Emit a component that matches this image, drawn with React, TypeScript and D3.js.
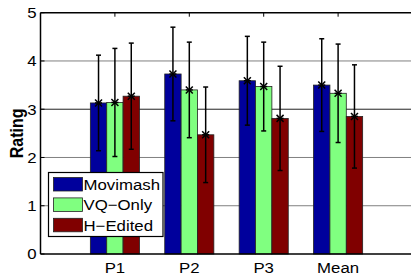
import React, { useRef, useEffect } from "react";
import * as d3 from "d3";

const categories = ["P1", "P2", "P3", "Mean"];
const seriesNames = ["Movimash", "VQ\u2212Only", "H\u2212Edited"];
const movimash = [3.13, 3.73, 3.59, 3.5];
const vqOnly = [3.14, 3.4, 3.47, 3.33];
const hEdited = [3.27, 2.47, 2.81, 2.85];
const movimashErr = [0.99, 0.97, 0.92, 0.96];
const vqOnlyErr = [1.12, 0.99, 0.92, 1.02];
const hEditedErr = [1.1, 0.99, 1.08, 1.07];
const yTicks = [0, 1, 2, 3, 4, 5];
const colors = ["#00009c", "#80ff80", "#800000"];

const W = 411;
const H = 277;

const BarChart = () => {
  const ref = useRef<SVGSVGElement | null>(null);

  useEffect(() => {
    if (!ref.current) return;
    const svg = d3.select(ref.current);
    svg.selectAll("*").remove();

    const left = 40.5;
    const top = 12.7;
    const bottom = 254;
    const right = 412.5;

    // matlab style: xlim [0, 5], groups at 1..4
    const x = d3.scaleLinear().domain([0, 5]).range([left, right]);
    const y = d3.scaleLinear().domain([0, 5]).range([bottom, top]);
    const barW = 0.22;

    const values = [movimash, vqOnly, hEdited];
    const errs = [movimashErr, vqOnlyErr, hEditedErr];
    const font = "Liberation Sans, Arial, sans-serif";

    // gridlines
    svg
      .append("g")
      .selectAll("line")
      .data(yTicks.filter((t) => t > 0 && t < 5))
      .enter()
      .append("line")
      .attr("x1", left)
      .attr("x2", W)
      .attr("y1", (d) => y(d))
      .attr("y2", (d) => y(d))
      .attr("stroke", (d) => (d === 3 ? "#222" : "#808080"))
      .attr("stroke-width", 1);

    // bars
    values.forEach((vals, s) => {
      svg
        .append("g")
        .selectAll("rect")
        .data(vals)
        .enter()
        .append("rect")
        .attr("x", (d, i) => x(i + 1 + (s - 1.5) * barW))
        .attr("width", x(barW) - x(0))
        .attr("y", (d) => y(d))
        .attr("height", (d) => y(0) - y(d))
        .attr("fill", colors[s])
        .attr("stroke", "#222")
        .attr("stroke-width", 0.8);
    });

    // error bars
    values.forEach((vals, s) => {
      const g = svg.append("g").attr("stroke", "#000").attr("stroke-width", 1.5);
      vals.forEach((v, i) => {
        const cx = x(i + 1 + (s - 1) * barW);
        const e = errs[s][i];
        g.append("line").attr("x1", cx).attr("x2", cx).attr("y1", y(v + e)).attr("y2", y(v - e));
        g.append("line").attr("x1", cx - 2.5).attr("x2", cx + 2.5).attr("y1", y(v + e)).attr("y2", y(v + e));
        g.append("line").attr("x1", cx - 2.5).attr("x2", cx + 2.5).attr("y1", y(v - e)).attr("y2", y(v - e));
        const m = 3.5;
        const cy = y(v);
        g.append("line").attr("x1", cx - m).attr("x2", cx + m).attr("y1", cy - m).attr("y2", cy + m);
        g.append("line").attr("x1", cx - m).attr("x2", cx + m).attr("y1", cy + m).attr("y2", cy - m);
        g.append("line").attr("x1", cx - m).attr("x2", cx + m).attr("y1", cy).attr("y2", cy);
      });
    });

    // axes box (left, top, bottom)
    const axis = svg.append("g").attr("stroke", "#000").attr("stroke-width", 1.5);
    axis.append("line").attr("x1", left).attr("x2", left).attr("y1", top).attr("y2", bottom);
    axis.append("line").attr("x1", left).attr("x2", W).attr("y1", top).attr("y2", top);
    axis.append("line").attr("x1", left).attr("x2", W).attr("y1", bottom).attr("y2", bottom);

    // y ticks
    yTicks.forEach((t) => {
      axis.append("line").attr("x1", left).attr("x2", left + 4).attr("y1", y(t)).attr("y2", y(t)).attr("stroke-width", 1);
    });
    // x ticks on top
    categories.forEach((c, i) => {
      axis.append("line").attr("x1", x(i + 1)).attr("x2", x(i + 1)).attr("y1", top).attr("y2", top + 4).attr("stroke-width", 1);
    });

    const stretch = 1.12;
    const addText = (tx: number, ty: number, str: string, anchor: string, size = 15, weight = "normal") => {
      svg
        .append("text")
        .attr("transform", `translate(${tx},${ty}) scale(${stretch},1)`)
        .attr("text-anchor", anchor)
        .attr("font-family", font)
        .attr("font-size", size)
        .attr("font-weight", weight)
        .attr("fill", "#000")
        .text(str);
    };

    yTicks.forEach((t) => addText(36.5, y(t) + 5.4, String(t), "end"));
    categories.forEach((c, i) => addText(x(i + 1), 273, c, "middle"));

    svg
      .append("text")
      .attr("transform", `translate(23,${(top + bottom) / 2}) rotate(-90) scale(1,${stretch})`)
      .attr("text-anchor", "middle")
      .attr("font-family", font)
      .attr("font-size", 16)
      .attr("font-weight", "bold")
      .text("Rating");

    // legend
    const lg = svg.append("g");
    lg.append("rect")
      .attr("x", 48.5)
      .attr("y", 172.5)
      .attr("width", 114.5)
      .attr("height", 64)
      .attr("fill", "#fff")
      .attr("stroke", "#000")
      .attr("stroke-width", 1.2);
    seriesNames.forEach((name, s) => {
      const ry = 177.5 + s * 20.4;
      lg.append("rect")
        .attr("x", 53.5)
        .attr("y", ry)
        .attr("width", 29)
        .attr("height", 13.5)
        .attr("fill", colors[s])
        .attr("stroke", "#222")
        .attr("stroke-width", 0.8);
      addText(83.5, ry + 12.2, name, "start");
    });
  }, []);

  return (
    <svg
      ref={ref}
      width={W}
      height={H}
      style={{ position: "absolute", left: 0, top: 0, background: "#fff" }}
    />
  );
};

export default function App() {
  return <BarChart />;
}
